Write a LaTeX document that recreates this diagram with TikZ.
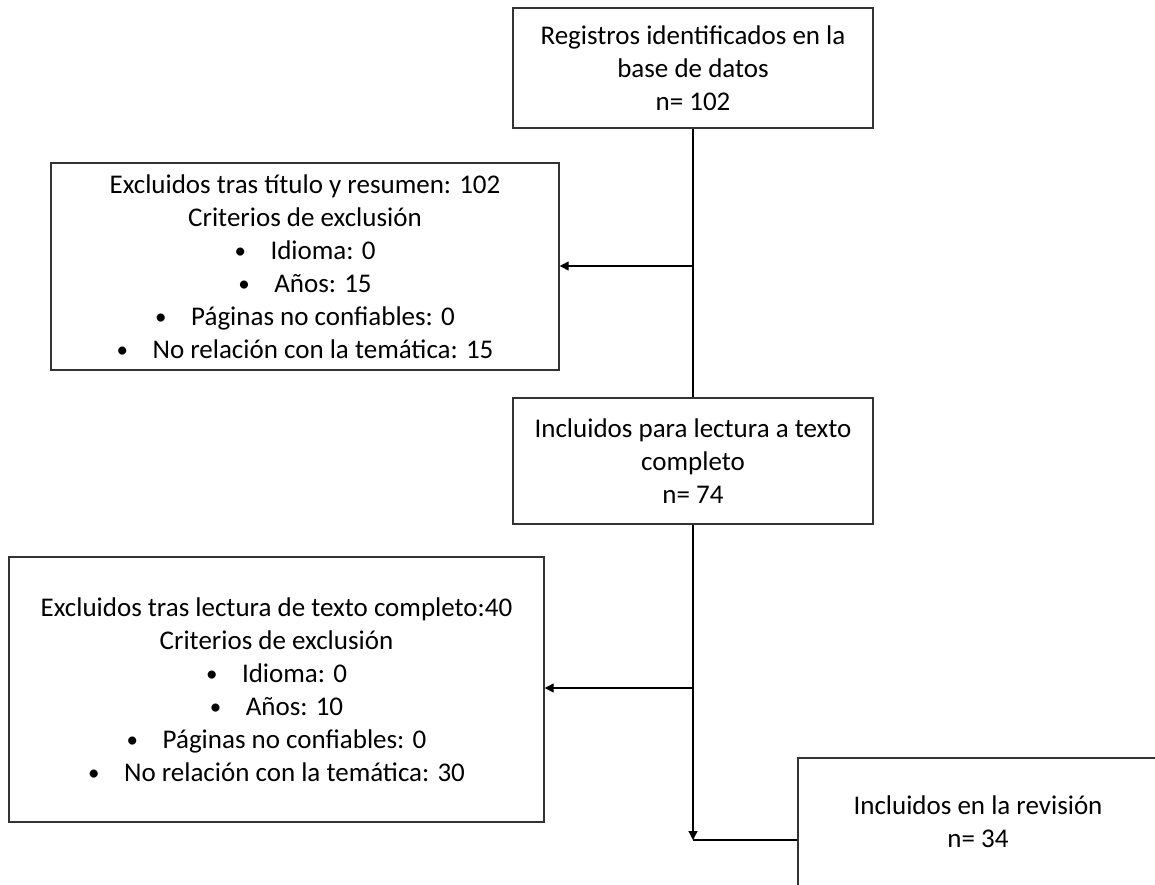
\documentclass[tikz,border=0pt]{standalone}
\usepackage{fontspec}
\setmainfont{Carlito}
\usetikzlibrary{arrows.meta,calc}
\tikzset{
  box/.style={draw=black!80, line width=1.4pt, fill=white, align=center, inner sep=0pt,
    font=\fontsize{27}{33}\selectfont},
  conn/.style={draw=black, line width=1.3pt},
  arr/.style={conn, -{Triangle[length=9pt,width=9pt]}}
}
\newcommand{\bul}[1]{\makebox[36pt][l]{\raisebox{1pt}{\scalebox{0.85}{\textbullet}}}#1}
\begin{document}
\begin{tikzpicture}[x=1pt,y=-1pt]
\clip (0,0) rectangle (1155,884);
\fill[white] (0,0) rectangle (1155,884);
\node[box, minimum width=360pt, minimum height=120pt] (b1) at (693,68)
  {Registros identificados en la\\base de datos\\n= 102};
\node[box, minimum width=508pt, minimum height=207pt] (b2) at (305,266.5)
  {Excluidos tras título y resumen: 102\\Criterios de exclusión\\\bul{Idioma: 0}\\\bul{Años: 15}\\\bul{Páginas no confiables: 0}\\\bul{No relación con la temática: 15}};
\node[box, minimum width=360pt, minimum height=126pt] (b3) at (693,461)
  {Incluidos para lectura a texto\\completo\\n= 74};
\node[box, minimum width=535pt, minimum height=265pt] (b4) at (276.5,689.5)
  {Excluidos tras lectura de texto completo:40\\Criterios de exclusión\\\bul{Idioma: 0}\\\bul{Años: 10}\\\bul{Páginas no confiables: 0}\\\bul{No relación con la temática: 30}};
\node[box, minimum width=360pt, minimum height=128pt] (b5) at (978,822)
  {Incluidos en la revisión\\n= 34};
\coordinate (j1) at (b1.south |- 0,266);
\coordinate (j2) at (b3.south |- 0,688);
\coordinate (j3) at (b3.south |- 0,840);
\draw[conn] (b1.south) -- (b3.north);
\draw[arr] (j1) -- (j1 -| b2.east);
\draw[arr] (j2) -- (j2 -| b4.east);
\draw[arr] (b3.south) -- (j3);
\draw[conn] (j3) -- (j3 -| b5.west);
\end{tikzpicture}
\end{document}
